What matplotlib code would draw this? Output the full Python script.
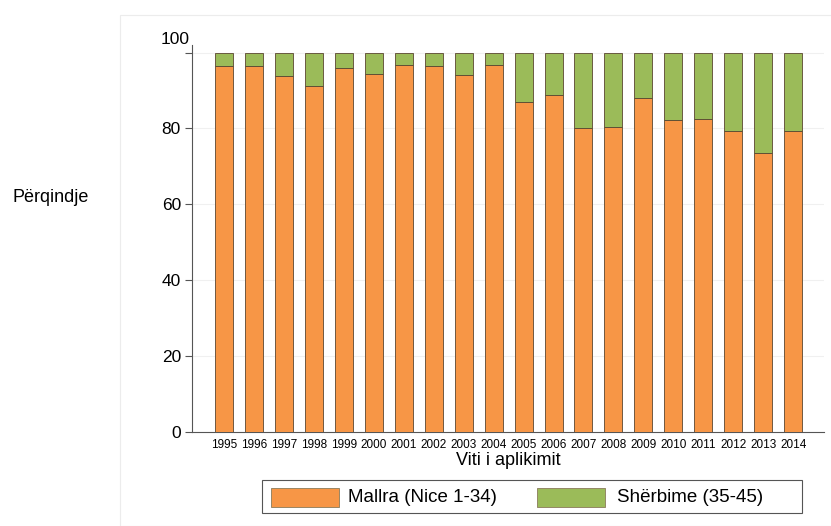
import matplotlib
matplotlib.use("Agg")
import matplotlib.pyplot as plt
from matplotlib.patches import Rectangle
import numpy as np

years = [str(y) for y in range(1995, 2015)]
mallra = [96.4, 96.4, 93.9, 91.3, 96.0, 94.3, 96.7, 96.4, 94.1, 96.7,
          86.9, 88.7, 80.1, 80.4, 87.9, 82.3, 82.6, 79.4, 73.5, 79.4]
sherbime = [100 - v for v in mallra]
yticks = [0, 20, 40, 60, 80, 100]
series_names = ["Mallra (Nice 1-34)", "Shërbime (35-45)"]

orange = "#F79646"
green = "#9BBB59"
edge = "#5a4630"

plt.rcParams['font.family'] = ['Liberation Sans', 'DejaVu Sans']

W, H = 831, 526
fig = plt.figure(figsize=(W / 100, H / 100), dpi=100)


def fx(px):
    return px / W


def fy(py):
    return 1 - py / H


# faint frame of the chart area
fig.add_artist(Rectangle((fx(120), 0), 1, fy(15), transform=fig.transFigure,
                         fill=False, edgecolor="#ececec", lw=0.8))
ax = fig.add_axes([fx(192), fy(432), fx(824 - 192), (432 - 45) / H])

x = np.arange(len(years))
ax.bar(x, mallra, width=0.6, color=orange, edgecolor=edge, linewidth=0.6,
       label=series_names[0], zorder=3)
ax.bar(x, sherbime, bottom=mallra, width=0.6, color=green, edgecolor=edge,
       linewidth=0.6, label=series_names[1], zorder=3)

ax.set_xlim(-1.07, 20.03)
ax.set_ylim(0, 102)
ax.set_yticks(yticks)
# the top label sits a little above its tick, as in the reference
ax.set_yticklabels([str(t) if t != yticks[-1] else "" for t in yticks], fontsize=12.5)
ax.annotate(str(yticks[-1]), xy=(0, yticks[-1]), xycoords=('axes fraction', 'data'),
            xytext=(-1.5, 9.5), textcoords='offset points', ha='right', va='center',
            fontsize=12.5)
ax.set_xticks(x)
ax.set_xticklabels(years, fontsize=8.5)
ax.tick_params(axis='x', length=0, pad=5)
ax.tick_params(axis='y', length=5, width=0.8, pad=3, color="#555555")
for yv in [20, 40, 60, 80, 100]:
    ax.axhline(yv, color="#f0f0f0", lw=0.8, zorder=0)
ax.spines['top'].set_visible(False)
ax.spines['right'].set_visible(False)
for s in ['left', 'bottom']:
    ax.spines[s].set_color("#555555")
    ax.spines[s].set_linewidth(0.8)

ax.set_xlabel("Viti i aplikimit", fontsize=13, labelpad=1)
fig.text(fx(12), fy(198), "Përqindje", fontsize=13, va='center', ha='left')

# legend box drawn as in the reference
fig.add_artist(Rectangle((fx(262), fy(513)), fx(802 - 262), (513 - 480) / H,
                         transform=fig.transFigure, fill=False,
                         edgecolor="#555555", lw=0.8))
handles = [(271, orange, 348), (537, green, 617)]
for (hx, col, tx), name in zip(handles, series_names):
    fig.add_artist(Rectangle((fx(hx), fy(507)), fx(68), 19 / H,
                             transform=fig.transFigure, facecolor=col,
                             edgecolor="#8a7a5a", lw=0.6))
    fig.text(fx(tx), fy(497), name, fontsize=13.5, va='center', ha='left')

fig.savefig("out.png", dpi=100)
